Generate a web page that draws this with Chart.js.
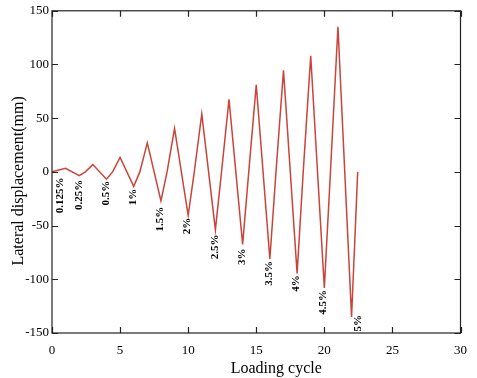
<!DOCTYPE html>
<html>
<head>
<meta charset="utf-8">
<script src="https://cdn.jsdelivr.net/npm/chart.js@4.4.1/dist/chart.umd.min.js"></script>
<style>
  html, body { margin: 0; padding: 0; background: #fff; }
  #wrap { width: 477px; height: 378px; }
</style>
</head>
<body>
<div id="wrap"><canvas id="cycleChart"></canvas></div>
<script>
// loading history: peak, trough, back to zero for each drift level
const cycleX = [0, 1, 2, 2.45, 3, 4, 4.45, 5, 6, 6.45, 7, 8, 8.45, 9, 10, 10.45,
  11, 12, 12.45, 13, 14, 14.45, 15, 16, 16.45, 17, 18, 18.45, 19, 20, 20.45, 21, 22, 22.45];
const displacement = [0, 3.4, -3.4, 0, 6.8, -6.8, 0, 13.5, -13.5, 0, 27, -27, 0, 40.5, -40.5, 0,
  54, -54, 0, 67.5, -67.5, 0, 81, -81, 0, 94.5, -94.5, 0, 108, -108, 0, 135, -135, 0];

// drift ratio annotations (anchored at the top end of the rotated text)
const driftLabels = ['0.125%', '0.25%', '0.5%', '1%', '1.5%', '2%', '2.5%', '3%', '3.5%', '4%', '4.5%', '5%'];
const driftLabelX = [0.6, 2, 4, 5.95, 7.95, 9.95, 11.95, 13.95, 15.95, 17.95, 19.95, 22.45];
const driftLabelY = [-5.3, -7.4, -8.3, -15.7, -32.4, -42.6, -58.3, -71.3, -83, -96.3, -110, -133.3];

const xTicks = [0, 5, 10, 15, 20, 25, 30];
const yTicks = [-150, -100, -50, 0, 50, 100, 150];

const serif = "'Liberation Serif', 'DejaVu Serif', serif";

const points = cycleX.map((x, i) => ({ x: x, y: displacement[i] }));

// frame with inward ticks on all four sides, axis titles and drift labels
const framePlugin = {
  id: 'frame',
  afterDraw(chart) {
    const ctx = chart.ctx;
    const a = chart.chartArea;
    const xs = chart.scales.x, ys = chart.scales.y;
    const tl = 6;
    ctx.save();
    ctx.strokeStyle = '#222';
    ctx.lineWidth = 1.2;
    ctx.strokeRect(a.left, a.top, a.right - a.left, a.bottom - a.top);
    ctx.beginPath();
    xTicks.forEach(v => {
      const px = Math.round(xs.getPixelForValue(v)) + 0.5;
      ctx.moveTo(px, a.bottom); ctx.lineTo(px, a.bottom - tl);
      ctx.moveTo(px, a.top); ctx.lineTo(px, a.top + tl);
    });
    yTicks.forEach(v => {
      const py = Math.round(ys.getPixelForValue(v)) + 0.5;
      ctx.moveTo(a.left, py); ctx.lineTo(a.left + tl, py);
      ctx.moveTo(a.right, py); ctx.lineTo(a.right - tl, py);
    });
    ctx.stroke();

    // drift labels, rotated to read bottom-to-top
    ctx.fillStyle = '#000';
    ctx.font = 'bold 11px ' + serif;
    ctx.textAlign = 'right';
    ctx.textBaseline = 'middle';
    driftLabels.forEach((t, i) => {
      ctx.save();
      ctx.translate(xs.getPixelForValue(driftLabelX[i]), ys.getPixelForValue(driftLabelY[i]));
      ctx.rotate(-Math.PI / 2);
      ctx.fillText(t, 0, 0);
      ctx.restore();
    });

    // axis titles
    ctx.font = '16px ' + serif;
    ctx.textAlign = 'center';
    ctx.textBaseline = 'middle';
    ctx.fillText('Loading cycle', (a.left + a.right) / 2 + 20, a.bottom + 36);
    ctx.save();
    ctx.translate(19, (a.top + a.bottom) / 2 + 9);
    ctx.rotate(-Math.PI / 2);
    ctx.fillText('Lateral displacement(mm)', 0, 0);
    ctx.restore();
    ctx.restore();
  }
};

new Chart(document.getElementById('cycleChart'), {
  type: 'scatter',
  data: {
    datasets: [{
      data: points,
      showLine: true,
      borderColor: '#c9453b',
      borderWidth: 1.5,
      pointRadius: 0,
      tension: 0
    }]
  },
  options: {
    responsive: true,
    maintainAspectRatio: false,
    animation: false,
    layout: { padding: { top: 9, right: 15, left: 0, bottom: 0 } },
    plugins: {
      legend: { display: false },
      tooltip: { enabled: false }
    },
    scales: {
      x: {
        type: 'linear',
        min: 0,
        max: 30,
        afterFit(scale) { scale.height = 45; },
        afterBuildTicks(scale) { scale.ticks = xTicks.map(v => ({ value: v })); },
        ticks: {
          color: '#000',
          padding: 10,
          maxRotation: 0,
          font: { family: serif, size: 13 }
        },
        grid: { drawOnChartArea: false, drawTicks: false },
        border: { display: false }
      },
      y: {
        min: -150,
        max: 150,
        afterFit(scale) { scale.width = 52; },
        afterBuildTicks(scale) { scale.ticks = yTicks.map(v => ({ value: v })); },
        ticks: {
          color: '#000',
          padding: 3,
          font: { family: serif, size: 13 }
        },
        grid: { drawOnChartArea: false, drawTicks: false },
        border: { display: false }
      }
    }
  },
  plugins: [framePlugin]
});
</script>
</body>
</html>
